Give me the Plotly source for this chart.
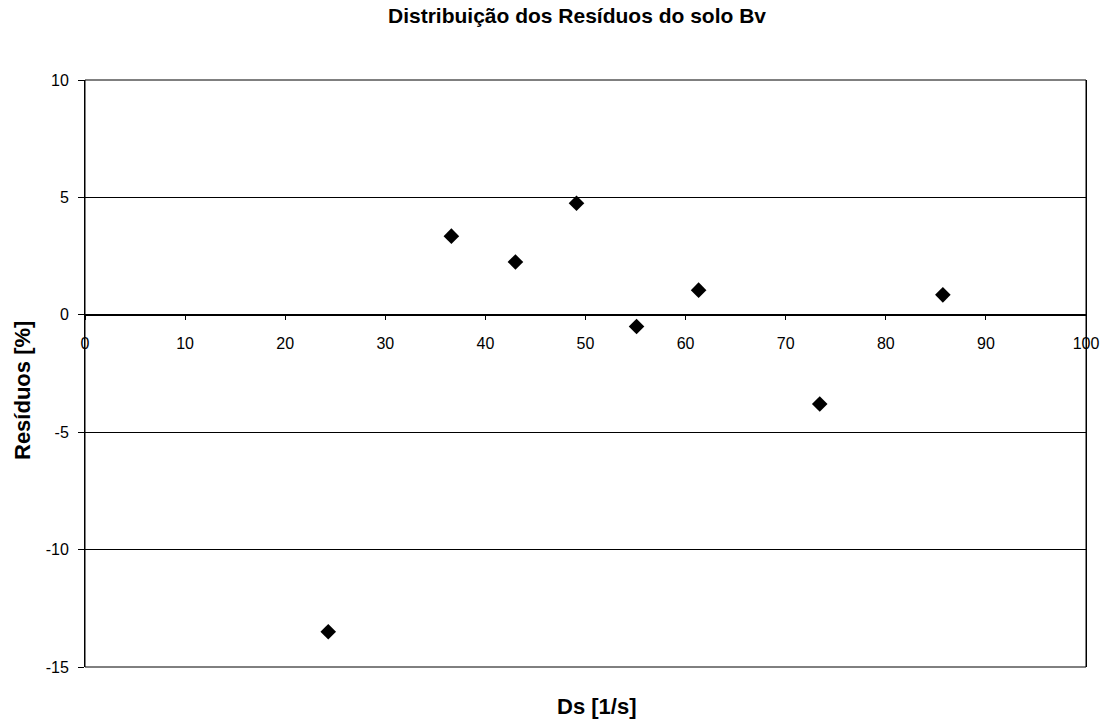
import plotly.graph_objects as go

ds = [24.3, 36.6, 43.0, 49.1, 55.1, 61.3, 73.4, 85.7]
residuos = [-13.5, 3.35, 2.25, 4.75, -0.5, 1.05, -3.8, 0.85]

x_ticks = [0, 10, 20, 30, 40, 50, 60, 70, 80, 90, 100]
y_ticks = [-15, -10, -5, 0, 5, 10]

FONT = "Arial, Liberation Sans, sans-serif"
W, H = 1103, 720
L, R, T, B = 85, 17, 80, 53
plot_w = W - L - R
plot_h = H - T - B


def px_x(px):
    return (px - L) / plot_w


def px_y(py):
    return (H - B - py) / plot_h


fig = go.Figure()
fig.add_trace(go.Scatter(
    x=ds, y=residuos, mode="markers",
    marker=dict(symbol="diamond", size=12, color="black", line=dict(width=0)),
    showlegend=False, hoverinfo="x+y",
))

fig.update_layout(
    width=W, height=H,
    margin=dict(l=L, r=R, t=T, b=B, autoexpand=False),
    paper_bgcolor="white", plot_bgcolor="white",
    font=dict(family=FONT, size=16, color="black"),
    title=dict(text="<b>Distribuição dos Resíduos do solo Bv</b>",
               x=577 / W, xanchor="center", y=1 - 16 / H, yanchor="middle",
               font=dict(family=FONT, size=21, color="black")),
    xaxis=dict(range=[0, 100], tickvals=x_ticks, ticktext=[str(v) for v in x_ticks],
               showgrid=False, zeroline=False, showline=True, linecolor="black", linewidth=1,
               ticks="outside", ticklen=4, tickcolor="black", ticklabelstandoff=10,
               anchor="free", position=0.6, automargin=False,
               tickfont=dict(family=FONT, size=16, color="black")),
    yaxis=dict(range=[-15, 10], tickvals=y_ticks, ticktext=[str(v) for v in y_ticks],
               showgrid=True, gridcolor="black", gridwidth=1,
               zeroline=False, showline=True, linecolor="black", linewidth=1,
               mirror=True, ticks="outside", ticklen=6, tickcolor="black",
               ticklabelstandoff=6, automargin=False,
               tickfont=dict(family=FONT, size=16, color="black")),
    annotations=[
        dict(text="<b>Ds [1/s]</b>", x=px_x(596), xref="paper", xanchor="center",
             y=px_y(706), yref="paper", yanchor="middle", showarrow=False,
             font=dict(family=FONT, size=22, color="black")),
        dict(text="<b>Resíduos [%]</b>", x=px_x(22), xref="paper", xanchor="center",
             y=px_y(390), yref="paper", yanchor="middle", showarrow=False, textangle=-90,
             font=dict(family=FONT, size=22, color="black")),
    ],
    shapes=[dict(type="rect", xref="paper", yref="paper", x0=0, x1=1, y0=0, y1=1,
                 line=dict(color="black", width=1), layer="above")],
)

fig.write_html("out.html")
